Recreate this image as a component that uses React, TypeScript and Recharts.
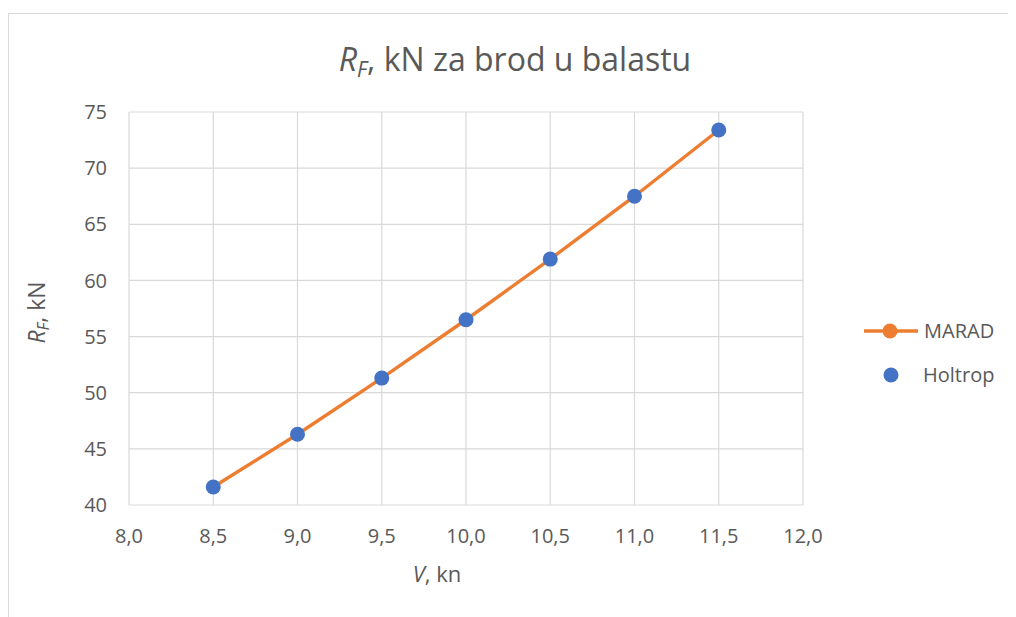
import React from 'react'
import { ComposedChart, Line, Scatter, XAxis, YAxis, CartesianGrid } from 'recharts'

const speeds = [8.5, 9.0, 9.5, 10.0, 10.5, 11.0, 11.5]
const maradValues = [41.6, 46.3, 51.3, 56.5, 61.9, 67.5, 73.4]
const holtropValues = [41.6, 46.3, 51.3, 56.5, 61.9, 67.5, 73.4]
const xTicks = [8, 8.5, 9, 9.5, 10, 10.5, 11, 11.5, 12]
const yTicks = [40, 45, 50, 55, 60, 65, 70, 75]

const data = speeds.map((v, i) => ({ v, marad: maradValues[i], holtrop: holtropValues[i] }))

const FONT = '"Open Sans", sans-serif'
const TEXT = '#595959'
const ORANGE = '#ED7D31'
const BLUE = '#4472C4'

const fmt = (n: number) => n.toFixed(1).replace('.', ',')

const Dot = (props: any) => <circle cx={props.cx} cy={props.cy} r={7.5} fill={BLUE} />

// legend drawn beside the chart, Excel style
const LegendBox = () => (
  <div style={{ position: 'absolute', left: 855, top: 295, width: 150 }}>
    <svg width={150} height={44} style={{ display: 'block' }}>
      <line x1={0} y1={22} x2={54} y2={22} stroke={ORANGE} strokeWidth={3.4} />
      <circle cx={26} cy={22} r={7.5} fill={ORANGE} />
      <text x={60} y={29} fontSize={20} fill={TEXT} fontFamily={FONT}>MARAD</text>
    </svg>
    <svg width={150} height={44} style={{ display: 'block' }}>
      <circle cx={27} cy={22} r={7.5} fill={BLUE} />
      <text x={59} y={29} fontSize={20} fill={TEXT} fontFamily={FONT}>Holtrop</text>
    </svg>
  </div>
)

export default function App() {
  return (
    <div
      style={{
        position: 'relative',
        marginTop: 5,
        width: 1007,
        height: 603,
        borderLeft: '1px solid #d9d9d9',
        borderTop: '1px solid #d9d9d9',
        fontFamily: FONT,
        color: TEXT,
        background: '#fff',
      }}
    >
      <div
        style={{
          position: 'absolute',
          top: 27,
          left: 0,
          width: 1012,
          textAlign: 'center',
          fontSize: 32,
          lineHeight: '36px',
        }}
      >
        <i>R<sub style={{ fontSize: 21, verticalAlign: '-6px' }}>F</sub></i>, kN za brod u balastu
      </div>
      <div
        style={{
          position: 'absolute',
          top: 545,
          left: 328,
          width: 200,
          textAlign: 'center',
          fontSize: 22,
          lineHeight: '28px',
        }}
      >
        <i>V</i>, kn
      </div>
      <div
        style={{
          position: 'absolute',
          top: 281,
          left: -70,
          width: 200,
          textAlign: 'center',
          fontSize: 23,
          lineHeight: '28px',
          transform: 'rotate(-90deg)',
        }}
      >
        <i>R<sub style={{ fontSize: 16, verticalAlign: '-4px' }}>F</sub></i>, kN
      </div>
      <LegendBox />
      <ComposedChart
        width={1007}
        height={603}
        data={data}
        margin={{ top: 98, right: 213, bottom: 82, left: 60 }}
      >
        <CartesianGrid stroke='#d9d9d9' strokeWidth={1.2} />
        <XAxis
          dataKey='v'
          type='number'
          domain={[8, 12]}
          ticks={xTicks}
          tickFormatter={fmt}
          axisLine={false}
          tickLine={false}
          tickSize={0}
          tickMargin={24}
          height={30}
          interval={0}
          tick={{ fill: TEXT, fontSize: 20, fontFamily: FONT }}
        />
        <YAxis
          type='number'
          domain={[40, 75]}
          ticks={yTicks}
          axisLine={false}
          tickLine={false}
          tickSize={0}
          tickMargin={22}
          width={60}
          interval={0}
          tick={{ fill: TEXT, fontSize: 20, fontFamily: FONT }}
        />
        <Line
          dataKey='marad'
          name='MARAD'
          type='linear'
          stroke={ORANGE}
          strokeWidth={3.4}
          dot={false}
          activeDot={false}
          isAnimationActive={false}
        />
        <Scatter dataKey='holtrop' name='Holtrop' shape={Dot} isAnimationActive={false} />
      </ComposedChart>
    </div>
  )
}
